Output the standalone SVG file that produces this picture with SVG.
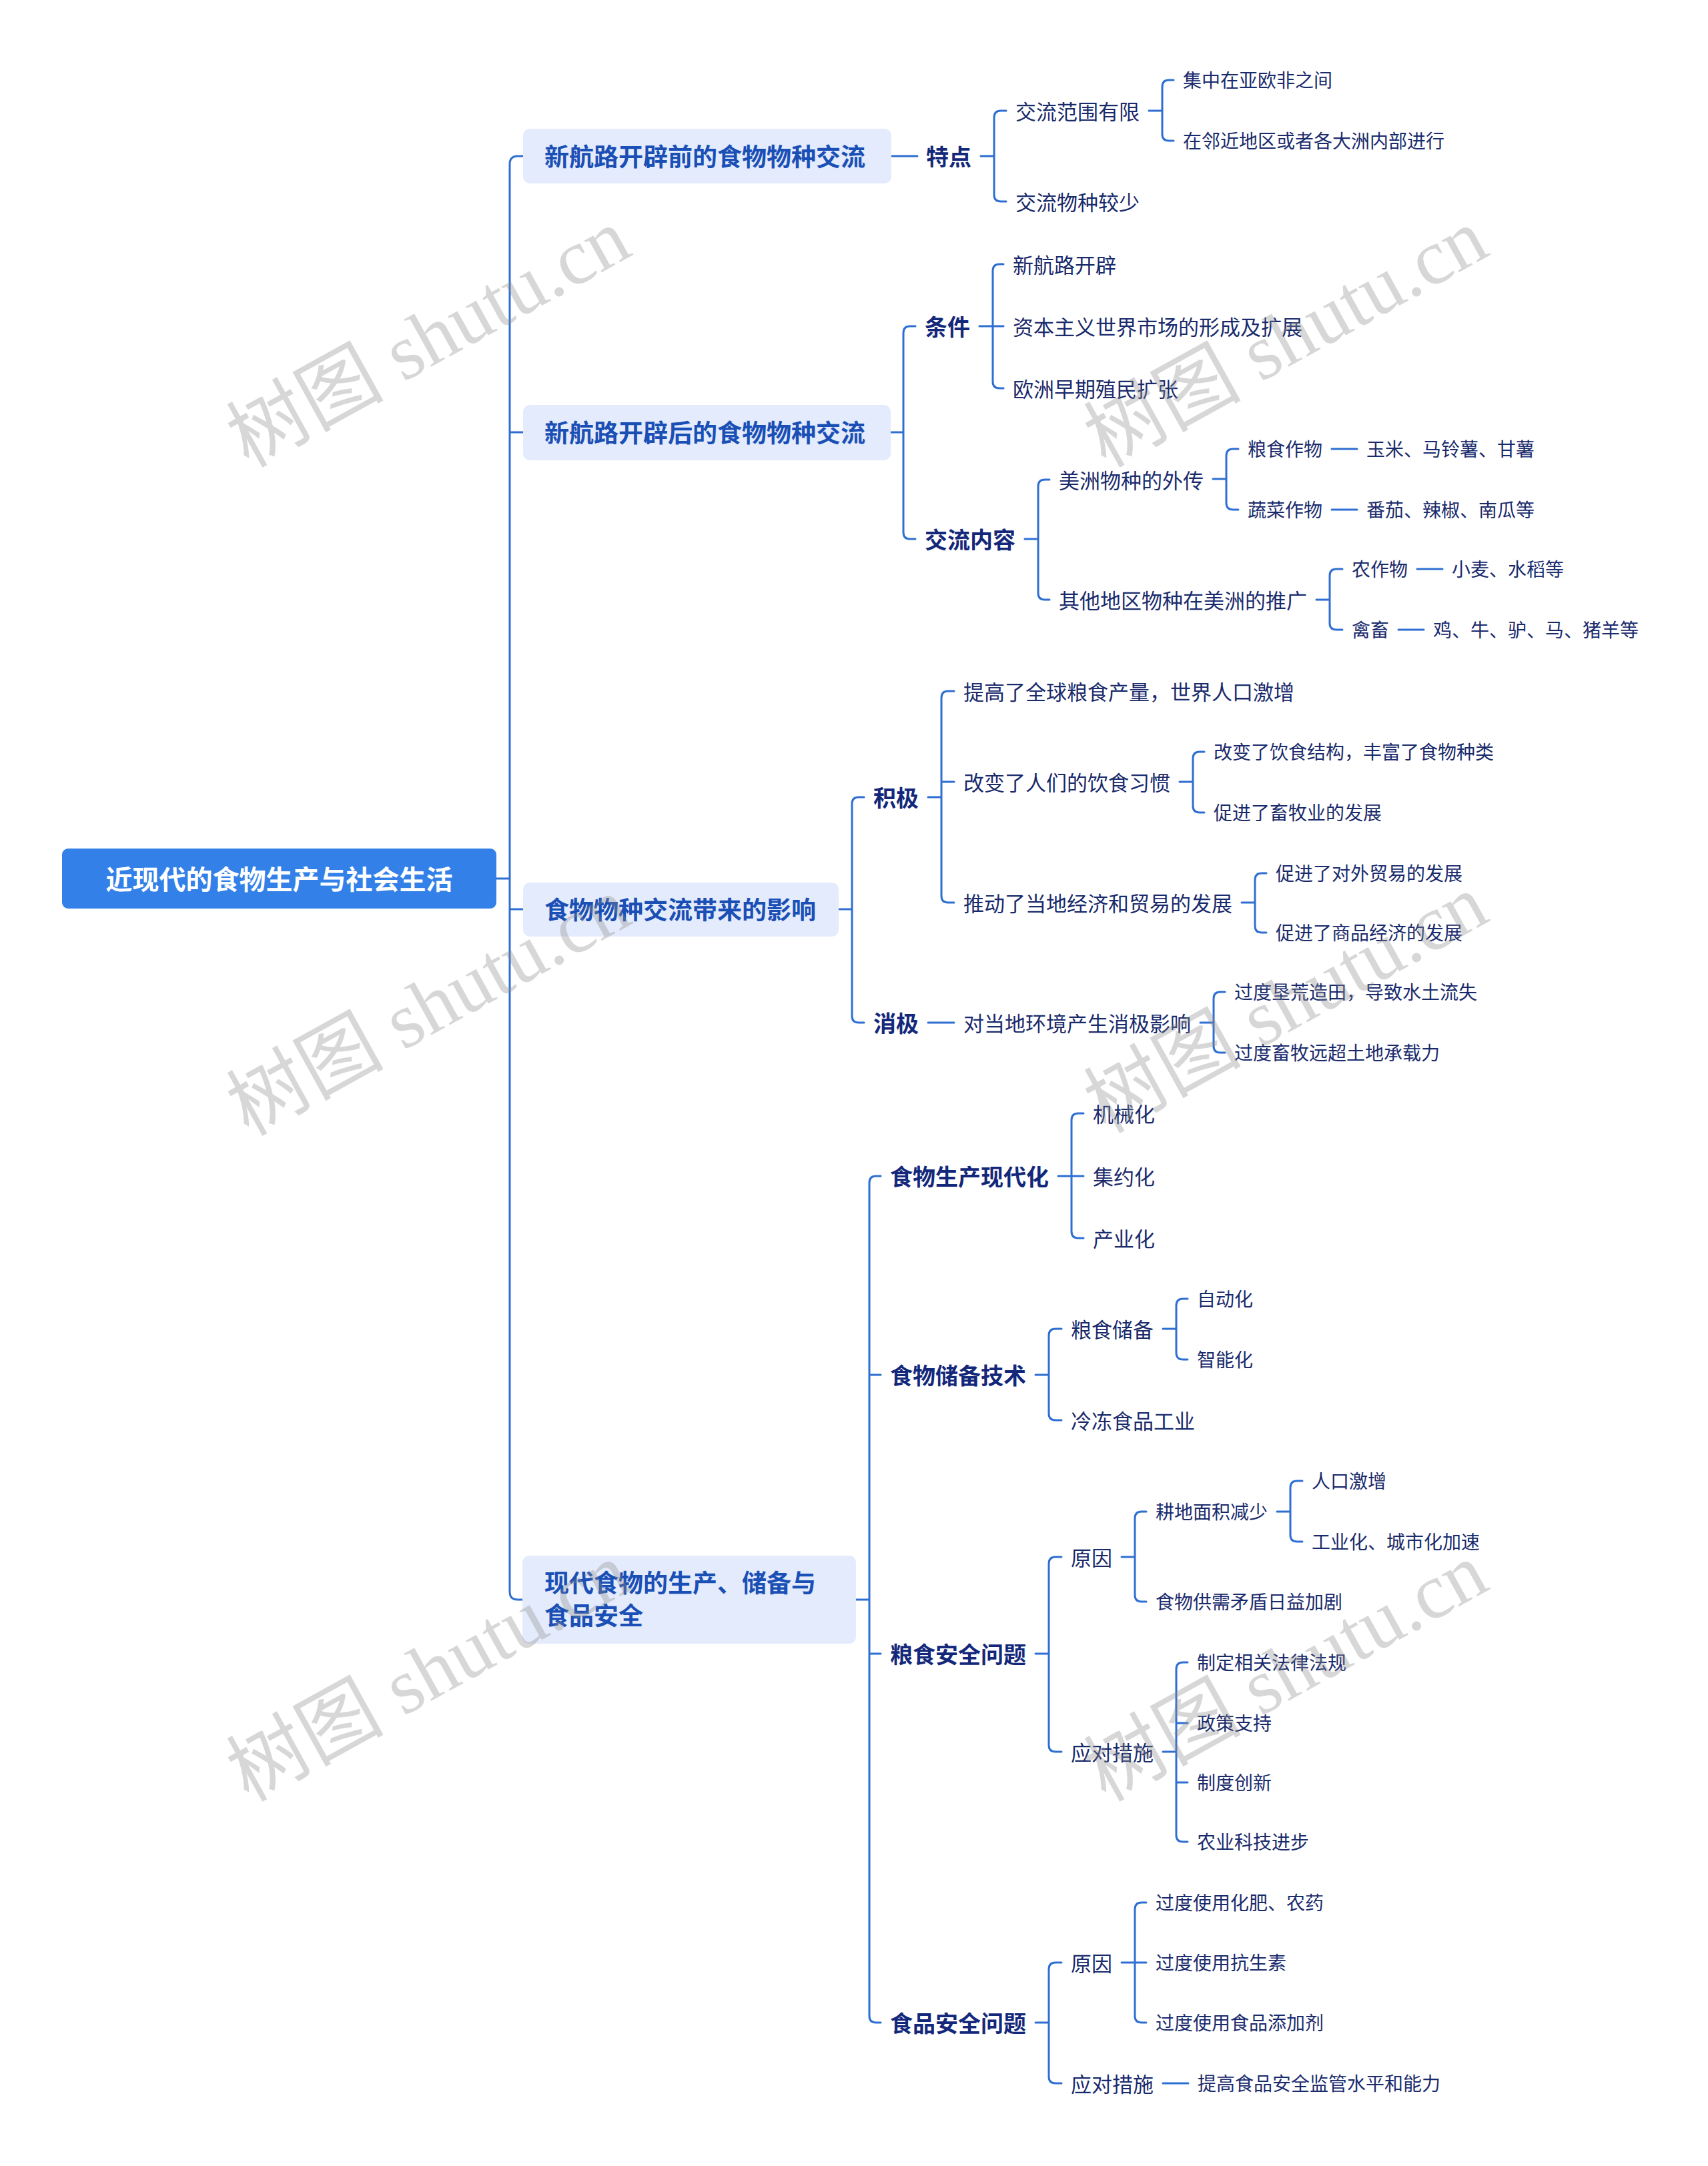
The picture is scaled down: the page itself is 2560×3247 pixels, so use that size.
<svg xmlns="http://www.w3.org/2000/svg" width="2560" height="3247" viewBox="0 0 2560 3247">
<style>
text{font-family:"Noto Sans CJK SC","Noto Sans",sans-serif;dominant-baseline:central}
.root{font-size:40px;font-weight:700;fill:#ffffff;text-anchor:middle}
.l1{font-size:37px;font-weight:700;fill:#1A4FB5}
.l2{font-size:34px;font-weight:700;fill:#13287A}
.l3{font-size:31px;fill:#1A2B6C}
.l4{font-size:28px;fill:#1A2B6C}
.ln{fill:none;stroke:#2E6FD1;stroke-width:3;stroke-linecap:round;stroke-linejoin:round}
.wm{font-family:"Liberation Serif","Noto Sans CJK SC",serif;font-size:118px;fill:#8c8c8c;opacity:0.34;dominant-baseline:alphabetic}
</style>
<rect width="2560" height="3247" fill="#ffffff"/>
<g id="connectors" class="ln">
<path d="M784 234H776Q764 234 764 246V2386Q764 2398 776 2398H784M744 1317H764M764 648H784M764 1363H784"/>
<path d="M1336 234H1375"/>
<path d="M1470 234H1490M1508 166H1500Q1490 166 1490 176V292Q1490 302 1500 302H1508"/>
<path d="M1722 166H1742M1759 120H1752Q1742 120 1742 130V201Q1742 211 1752 211H1759"/>
<path d="M1335 648H1354M1372 489H1364Q1354 489 1354 499V798Q1354 808 1364 808H1372"/>
<path d="M1468 489H1504M1504 396H1498Q1488 396 1488 406V572Q1488 582 1498 582H1504"/>
<path d="M1536 808H1556M1573 719H1566Q1556 719 1556 729V889Q1556 899 1566 899H1573"/>
<path d="M1818 718H1838M1856 673H1848Q1838 673 1838 683V754Q1838 764 1848 764H1856"/>
<path d="M1996 673H2034M1996 764H2034"/>
<path d="M1973 899H1993M2012 853H2003Q1993 853 1993 863V934Q1993 944 2003 944H2012"/>
<path d="M2124 853H2162M2096 944H2134"/>
<path d="M1257 1363H1277M1295 1195H1287Q1277 1195 1277 1205V1523Q1277 1533 1287 1533H1295"/>
<path d="M1391 1195H1411M1411 1172H1430M1430 1036H1421Q1411 1036 1411 1046V1343Q1411 1353 1421 1353H1430"/>
<path d="M1768 1172H1788M1805 1127H1798Q1788 1127 1788 1137V1208Q1788 1218 1798 1218H1805"/>
<path d="M1861 1353H1881M1898 1309H1891Q1881 1309 1881 1319V1388Q1881 1398 1891 1398H1898"/>
<path d="M1391 1533H1430"/>
<path d="M1799 1533H1819M1836 1487H1829Q1819 1487 1819 1497V1568Q1819 1578 1829 1578H1836"/>
<path d="M1283 2398H1303M1303 2061H1320M1303 2479H1320M1320 1763H1313Q1303 1763 1303 1773V3022Q1303 3032 1313 3032H1320"/>
<path d="M1586 1763H1624M1624 1669H1616Q1606 1669 1606 1679V1846Q1606 1856 1616 1856H1624"/>
<path d="M1552 2061H1572M1591 1992H1582Q1572 1992 1572 2002V2119Q1572 2129 1582 2129H1591"/>
<path d="M1743 1992H1763M1780 1947H1773Q1763 1947 1763 1957V2028Q1763 2038 1773 2038H1780"/>
<path d="M1552 2479H1572M1591 2334H1582Q1572 2334 1572 2344V2616Q1572 2626 1582 2626H1591"/>
<path d="M1681 2334H1701M1718 2266H1711Q1701 2266 1701 2276V2391Q1701 2401 1711 2401H1718"/>
<path d="M1914 2266H1934M1952 2220H1944Q1934 2220 1934 2230V2301Q1934 2311 1944 2311H1952"/>
<path d="M1743 2626H1763M1763 2583H1780M1763 2672H1780M1780 2492H1773Q1763 2492 1763 2502V2751Q1763 2761 1773 2761H1780"/>
<path d="M1552 3032H1572M1591 2942H1582Q1572 2942 1572 2952V3113Q1572 3123 1582 3123H1591"/>
<path d="M1681 2942H1718M1718 2852H1711Q1701 2852 1701 2862V3022Q1701 3032 1711 3032H1718"/>
<path d="M1743 3123H1781"/>
</g>
<g id="root"><rect x="93" y="1272" width="651" height="90" rx="9" fill="#3381E8"/><text class="root" x="418.5" y="1316">近现代的食物生产与社会生活</text></g>
<g id="n-a"><rect x="784" y="193" width="552" height="82" rx="10" fill="#E3EBFC"/><text class="l1" x="816" y="233">新航路开辟前的食物物种交流</text></g>
<g id="n-b"><rect x="784" y="607" width="551" height="83" rx="10" fill="#E3EBFC"/><text class="l1" x="816" y="647">新航路开辟后的食物物种交流</text></g>
<g id="n-c"><rect x="784" y="1323" width="473" height="81" rx="10" fill="#E3EBFC"/><text class="l1" x="816" y="1362">食物物种交流带来的影响</text></g>
<g id="n-d"><rect x="783" y="2332" width="500" height="132" rx="10" fill="#E3EBFC"/><text class="l1" x="816" y="2371">现代食物的生产、储备与</text><text class="l1" x="816" y="2420">食品安全</text></g>
<g id="n-a1"><text class="l2" x="1388" y="233">特点</text></g>
<g id="n-a1a"><text class="l3" x="1522" y="165">交流范围有限</text></g>
<g id="n-a1a1"><text class="l4" x="1773" y="119">集中在亚欧非之间</text></g>
<g id="n-a1a2"><text class="l4" x="1773" y="210">在邻近地区或者各大洲内部进行</text></g>
<g id="n-a1b"><text class="l3" x="1522" y="301">交流物种较少</text></g>
<g id="n-b1"><text class="l2" x="1386" y="488">条件</text></g>
<g id="n-b1a"><text class="l3" x="1518" y="395">新航路开辟</text></g>
<g id="n-b1b"><text class="l3" x="1518" y="488">资本主义世界市场的形成及扩展</text></g>
<g id="n-b1c"><text class="l3" x="1518" y="581">欧洲早期殖民扩张</text></g>
<g id="n-b2"><text class="l2" x="1386" y="807">交流内容</text></g>
<g id="n-b2a"><text class="l3" x="1587" y="718">美洲物种的外传</text></g>
<g id="n-b2a1"><text class="l4" x="1870" y="672">粮食作物</text></g>
<g id="n-b2a1x"><text class="l4" x="2048" y="672">玉米、马铃薯、甘薯</text></g>
<g id="n-b2a2"><text class="l4" x="1870" y="763">蔬菜作物</text></g>
<g id="n-b2a2x"><text class="l4" x="2048" y="763">番茄、辣椒、南瓜等</text></g>
<g id="n-b2b"><text class="l3" x="1587" y="898">其他地区物种在美洲的推广</text></g>
<g id="n-b2b1"><text class="l4" x="2026" y="852">农作物</text></g>
<g id="n-b2b1x"><text class="l4" x="2176" y="852">小麦、水稻等</text></g>
<g id="n-b2b2"><text class="l4" x="2026" y="943">禽畜</text></g>
<g id="n-b2b2x"><text class="l4" x="2148" y="943">鸡、牛、驴、马、猪羊等</text></g>
<g id="n-c1"><text class="l2" x="1309" y="1194">积极</text></g>
<g id="n-c1a"><text class="l3" x="1444" y="1035">提高了全球粮食产量，世界人口激增</text></g>
<g id="n-c1b"><text class="l3" x="1444" y="1171">改变了人们的饮食习惯</text></g>
<g id="n-c1b1"><text class="l4" x="1819" y="1126">改变了饮食结构，丰富了食物种类</text></g>
<g id="n-c1b2"><text class="l4" x="1819" y="1217">促进了畜牧业的发展</text></g>
<g id="n-c1c"><text class="l3" x="1444" y="1352">推动了当地经济和贸易的发展</text></g>
<g id="n-c1c1"><text class="l4" x="1912" y="1308">促进了对外贸易的发展</text></g>
<g id="n-c1c2"><text class="l4" x="1912" y="1397">促进了商品经济的发展</text></g>
<g id="n-c2"><text class="l2" x="1309" y="1532">消极</text></g>
<g id="n-c2a"><text class="l3" x="1444" y="1532">对当地环境产生消极影响</text></g>
<g id="n-c2a1"><text class="l4" x="1850" y="1486">过度垦荒造田，导致水土流失</text></g>
<g id="n-c2a2"><text class="l4" x="1850" y="1577">过度畜牧远超土地承载力</text></g>
<g id="n-d1"><text class="l2" x="1334" y="1762">食物生产现代化</text></g>
<g id="n-d1a"><text class="l3" x="1638" y="1668">机械化</text></g>
<g id="n-d1b"><text class="l3" x="1638" y="1762">集约化</text></g>
<g id="n-d1c"><text class="l3" x="1638" y="1855">产业化</text></g>
<g id="n-d2"><text class="l2" x="1334" y="2060">食物储备技术</text></g>
<g id="n-d2a"><text class="l3" x="1605" y="1991">粮食储备</text></g>
<g id="n-d2a1"><text class="l4" x="1794" y="1946">自动化</text></g>
<g id="n-d2a2"><text class="l4" x="1794" y="2037">智能化</text></g>
<g id="n-d2b"><text class="l3" x="1605" y="2128">冷冻食品工业</text></g>
<g id="n-d3"><text class="l2" x="1334" y="2478">粮食安全问题</text></g>
<g id="n-d3a"><text class="l3" x="1605" y="2333">原因</text></g>
<g id="n-d3a1"><text class="l4" x="1732" y="2265">耕地面积减少</text></g>
<g id="n-d3a1a"><text class="l4" x="1966" y="2219">人口激增</text></g>
<g id="n-d3a1b"><text class="l4" x="1966" y="2310">工业化、城市化加速</text></g>
<g id="n-d3a2"><text class="l4" x="1732" y="2400">食物供需矛盾日益加剧</text></g>
<g id="n-d3b"><text class="l3" x="1605" y="2625">应对措施</text></g>
<g id="n-d3b1"><text class="l4" x="1794" y="2491">制定相关法律法规</text></g>
<g id="n-d3b2"><text class="l4" x="1794" y="2582">政策支持</text></g>
<g id="n-d3b3"><text class="l4" x="1794" y="2671">制度创新</text></g>
<g id="n-d3b4"><text class="l4" x="1794" y="2760">农业科技进步</text></g>
<g id="n-d4"><text class="l2" x="1334" y="3031">食品安全问题</text></g>
<g id="n-d4a"><text class="l3" x="1605" y="2941">原因</text></g>
<g id="n-d4a1"><text class="l4" x="1732" y="2851">过度使用化肥、农药</text></g>
<g id="n-d4a2"><text class="l4" x="1732" y="2941">过度使用抗生素</text></g>
<g id="n-d4a3"><text class="l4" x="1732" y="3031">过度使用食品添加剂</text></g>
<g id="n-d4b"><text class="l3" x="1605" y="3122">应对措施</text></g>
<g id="n-d4b1"><text class="l4" x="1795" y="3122">提高食品安全监管水平和能力</text></g>
<g id="watermarks">
<text class="wm" transform="translate(372 702) rotate(-29)">树图 shutu.cn</text>
<text class="wm" transform="translate(1657 702) rotate(-29)">树图 shutu.cn</text>
<text class="wm" transform="translate(372 1704) rotate(-29)">树图 shutu.cn</text>
<text class="wm" transform="translate(1657 1700) rotate(-29)">树图 shutu.cn</text>
<text class="wm" transform="translate(372 2702) rotate(-29)">树图 shutu.cn</text>
<text class="wm" transform="translate(1657 2702) rotate(-29)">树图 shutu.cn</text>
</g>
</svg>
